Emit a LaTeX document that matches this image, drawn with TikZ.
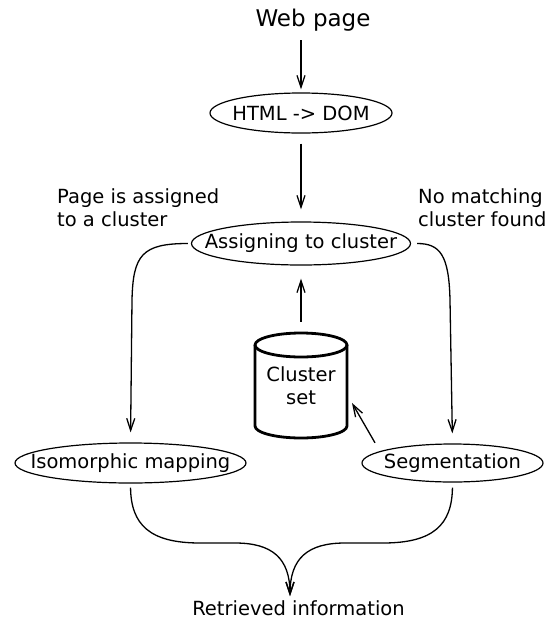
\documentclass[tikz,border=0pt]{standalone}
\usepackage{fontspec}
\setmainfont{DejaVu Sans}
\usetikzlibrary{arrows.meta,shapes.geometric}
\newcommand{\oneline}[1]{\makebox[0pt]{#1}}
\begin{document}
\begin{tikzpicture}[x=1pt,y=-1pt,
  txt/.style={font=\fontsize{19.5}{23}\selectfont, inner sep=0pt},
  oval/.style={ellipse, draw, line width=1.2pt, inner sep=0pt, txt},
  link/.style={line width=1.3pt, -{Straight Barb[length=12pt,width=8pt]}},
]
\useasboundingbox (0,0) rectangle (550,619);

% nodes (oval labels are zero-width so the ellipse keeps its set size)
\node[txt, font=\fontsize{23}{27}\selectfont] (web) at (313,20) {Web page};
\node[oval, minimum width=182pt, minimum height=40pt] (html) at (301,113) {\oneline{HTML -> DOM}};
\node[oval, minimum width=219pt, minimum height=43pt] (assign) at (301,243.5) {\oneline{Assigning to cluster}};
\node[oval, minimum width=231pt, minimum height=40pt] (iso) at (130.5,463) {\oneline{Isomorphic mapping}};
\node[oval, minimum width=181pt, minimum height=38pt] (seg) at (452.5,463) {\oneline{Segmentation}};
\node[txt, align=left, anchor=west] (lab1) at (57,208) {Page is assigned\\to a cluster};
\node[txt, align=left, anchor=west] (lab2) at (418,208) {No matching\\cluster found};
\node[txt] (out) at (298.5,608) {Retrieved information};

% cluster store
\node[txt, align=center, minimum width=92pt, minimum height=105pt] (cs) at (301,385.5) {Cluster\\set};
\draw[line width=2.8pt] (255,345) -- (255,426)
  arc[start angle=180, end angle=0, x radius=46, y radius=12] -- (347,345);
\draw[line width=2.8pt] (301,345) ellipse[x radius=46, y radius=12];

\coordinate (segtop) at (378,448);
\coordinate (cside) at (347,394.3);
\coordinate (merge) at (290,596);

% connectors
\draw[link, shorten <=9pt, shorten >=3pt] (web.south -| html.north) -- (html.north);
\draw[link, shorten <=10pt, shorten >=12pt] (html.south) -- (assign.north);
\draw[link, shorten <=11pt, shorten >=13pt] (cs.north) -- (assign.south);
\draw[link, shorten <=6pt, shorten >=10pt] (segtop) -- (cside);

\draw[link, shorten <=3pt, shorten >=10pt] (assign.west)
  .. controls (142,243.5) and (133,255) .. (132,300) -- (iso.north);
\draw[link, shorten <=6pt, shorten >=10pt] (assign.east)
  .. controls (440,243.5) and (449,255) .. (450,300) -- (seg.north);

\draw[link, shorten <=4pt] (iso.south)
  .. controls (131,525) and (150,543) .. (200,543) -- (235,543)
  .. controls (272,543) and (290,558) .. (merge);
\draw[link, shorten <=5pt] (seg.south)
  .. controls (452,525) and (433,543) .. (383,543) -- (345,543)
  .. controls (308,543) and (290,558) .. (merge);
\end{tikzpicture}
\end{document}
